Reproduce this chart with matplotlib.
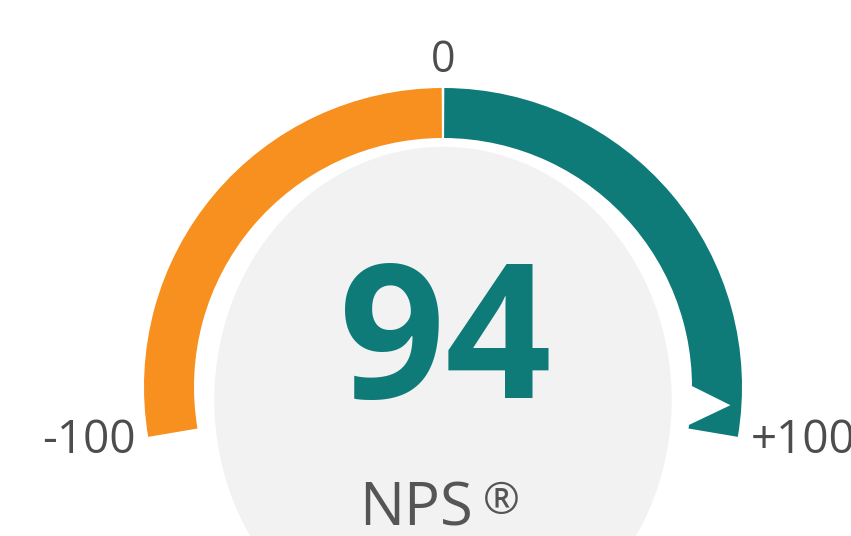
import numpy as np
import matplotlib
matplotlib.use("Agg")
import matplotlib.pyplot as plt
from matplotlib.patches import Wedge, Ellipse, Polygon

# gauge data
nps_value = 94
scale_min, scale_max = -100, 100
segments = [(-100, 0), (0, nps_value)]
segment_colors = ["#F7901E", "#0E7B79"]
tick_values = [-100, 0, 100]
tick_labels = ["-100", "0", "+100"]
title_text = "NPS"
title_mark = "\u00ae"

W, H = 851, 536
cx, cy = 443, H - 387          # gauge centre (pixels, y up)
r_out, r_in = 299, 249
span = 199.2                   # degrees covered by -100..+100


def angle(v):
    return 90 - (v - 0) * span / (scale_max - scale_min)


def main():
    fig = plt.figure(figsize=(W / 100, H / 100), dpi=100)
    ax = fig.add_axes([0, 0, 1, 1])
    ax.set_xlim(0, W)
    ax.set_ylim(0, H)
    ax.axis("off")

    # light grey disc in the middle
    ax.add_patch(Ellipse((cx, H - 400), 456, 505, color="#F2F2F2", zorder=1))

    # coloured arc segments, teal runs on to the end of the scale
    end_ang = angle(scale_max)
    gap = 0.25
    lo, hi = segments[0]
    ax.add_patch(Wedge((cx, cy), r_out, angle(hi) + gap, angle(lo),
                       width=r_out - r_in, color=segment_colors[0], lw=0, zorder=2))
    lo, hi = segments[1]
    ax.add_patch(Wedge((cx, cy), r_out, end_ang, angle(lo) - gap,
                       width=r_out - r_in, color=segment_colors[1], lw=0, zorder=2))

    # white notch marking the value
    a = angle(nps_value)
    pts = []
    for ang, rr in [(a + 4.2, r_in - 3), (a, 288), (a - 5.6, r_in - 3)]:
        t = np.radians(ang)
        pts.append((cx + rr * np.cos(t), cy + rr * np.sin(t)))
    ax.add_patch(Polygon(pts, closed=True, color="white", lw=0, zorder=3))

    # scale labels
    lab_color = "#4D4D4D"
    font = ["Open Sans", "DejaVu Sans"]
    ax.text(cx, H - 72, tick_labels[1], ha="center", va="baseline",
            fontsize=31, color=lab_color, family=font)
    ax.text(136, H - 453, tick_labels[0], ha="right", va="baseline",
            fontsize=33, color=lab_color, family=font)
    ax.text(751, H - 453, tick_labels[2], ha="left", va="baseline",
            fontsize=33, color=lab_color, family=font)

    # big value
    ax.text(445, H - 398, str(nps_value), ha="center", va="baseline",
            fontsize=134, fontweight="bold", color=segment_colors[1], family=font)
    ax.text(416, H - 525, title_text, ha="center", va="baseline",
            fontsize=43, color="#555555", family=font)
    ax.text(501, H - 503, title_mark, ha="center", va="center",
            fontsize=32, color="#555555", family=font)

    fig.savefig("out.png", dpi=100)


if __name__ == "__main__":
    main()
